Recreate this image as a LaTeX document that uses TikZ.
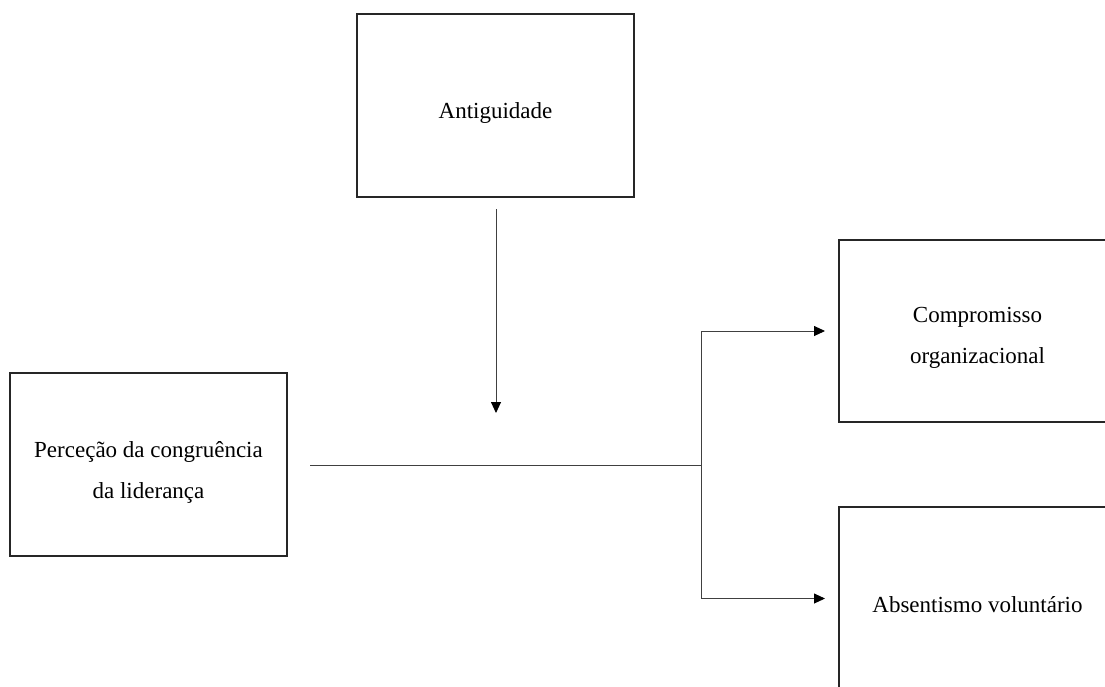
\documentclass[tikz,border=0pt]{standalone}
\usepackage{fontspec}
\setmainfont{Liberation Serif}
\usetikzlibrary{arrows.meta}
\begin{document}
\begin{tikzpicture}[x=1pt,y=-1pt,
  box/.style={draw=black!85,line width=1.4pt,minimum width=277pt,minimum height=183pt,inner sep=0pt,outer sep=0pt},
  txt/.style={font=\fontsize{23}{41}\selectfont,align=center,inner sep=0pt},
  conn/.style={draw=black!75,line width=0.9pt},
  arr/.style={conn,-{Triangle[length=11pt,width=10pt,fill=black,color=black]}}]
\clip (0,0) rectangle (1105,686);
\useasboundingbox (0,0) rectangle (1105,686);
% boxes
\node[box] (ant) at (495.5,105.5) {};
\node[box] (per) at (148.5,464.5) {};
\node[box,minimum height=182pt] (com) at (977.5,331) {};
\node[box] (abs) at (977.5,598.5) {};
% texts
\node[txt] (tant) at ([yshift=-7pt]ant.center) {Antiguidade};
\node[txt] (tper) at ([yshift=-7.5pt]per.center) {Perceção da congruência\\da liderança};
\node[txt] (tcom) at ([yshift=-7pt]com.center) {Compromisso\\organizacional};
\node[txt] (tabs) at ([yshift=-6pt]abs.center) {Absentismo voluntário};
% connectors
\coordinate (mod) at (496,413);
\coordinate (j) at (701,465);
\draw[arr] ([yshift=-12pt]ant.south -| mod) -- (mod);
\draw[conn] ([xshift=23pt]per.east |- j) -- (j);
\draw[arr] (j) |- ([xshift=-14pt]com.west);
\draw[arr] (j) |- ([xshift=-14pt]abs.west);
\end{tikzpicture}
\end{document}
